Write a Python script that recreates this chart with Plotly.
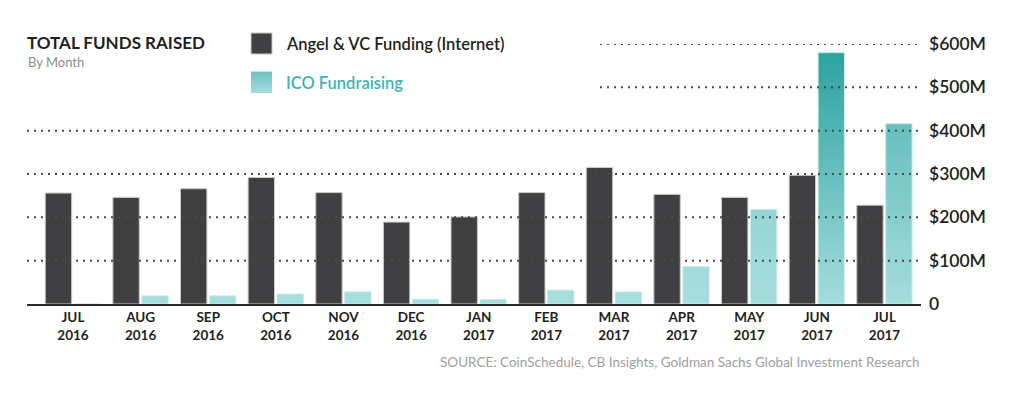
import math
import plotly.graph_objects as go

# ---------------- data ----------------
months = ["JUL<br>2016", "AUG<br>2016", "SEP<br>2016", "OCT<br>2016", "NOV<br>2016",
          "DEC<br>2016", "JAN<br>2017", "FEB<br>2017", "MAR<br>2017", "APR<br>2017",
          "MAY<br>2017", "JUN<br>2017", "JUL<br>2017"]
angel_vc = [256, 246, 266, 292, 257, 189, 201, 257, 315, 253, 246, 297, 228]   # $M
ico = [0, 19, 19, 23, 28, 11, 10, 32, 28, 86, 218, 580, 416]                   # $M
y_ticks = [0, 100, 200, 300, 400, 500, 600]
y_tick_labels = ["0", "$100M", "$200M", "$300M", "$400M", "$500M", "$600M"]

# ---------------- geometry helpers (layout only) ----------------
W, H = 1024, 399
ML, MR, MT, MB = 27, 103, 44, 95
PW, PH = W - ML - MR, H - MT - MB


def px(x):
    return (x - ML) / PW


def py(y):
    return (H - MB - y) / PH


FONT = "Lato"
DARK = "#404042"
TXT = "#231f20"
BOT = (166, 221, 221)
TOP = (44, 162, 161)


def lerp(t):
    t = max(0.0, min(1.0, t))
    r, g, b = (round(BOT[i] + (TOP[i] - BOT[i]) * t) for i in range(3))
    return f"rgb({r},{g},{b})"


xs = list(range(len(months)))

fig = go.Figure()

# Angel & VC bars
fig.add_trace(go.Bar(
    x=xs, y=angel_vc, width=0.39, offset=-0.41,
    marker=dict(color=DARK, line=dict(color="#c9c9c9", width=1)),
    name="Angel & VC Funding (Internet)", showlegend=False,
))

# ICO bars drawn as gradient segments derived from the values
vmax = max(ico)
step = 4
seg_x, seg_y, seg_base, seg_col = [], [], [], []
for i, v in enumerate(ico):
    n = math.ceil(v / step)
    for k in range(n):
        base = k * step
        h = min(step * 1.4, v - base)
        mid = base + min(step, v - base) / 2
        seg_x.append(i)
        seg_y.append(h)
        seg_base.append(base)
        seg_col.append(lerp(mid * v / vmax ** 2))
fig.add_trace(go.Bar(
    x=seg_x, y=seg_y, base=seg_base, width=0.39, offset=0.018,
    marker=dict(color=seg_col, line=dict(width=0)),
    name="ICO Fundraising", showlegend=False, hoverinfo="skip",
))
# outline for ICO bars
fig.add_trace(go.Bar(
    x=xs, y=ico, width=0.39, offset=0.018,
    marker=dict(color="rgba(0,0,0,0)", line=dict(color="rgba(205,236,236,1)", width=1)),
    showlegend=False, hoverinfo="skip",
))

shapes = []
# dotted gridlines
for v in y_ticks[1:]:
    x0 = 0 if v <= 400 else px(600)
    shapes.append(dict(type="line", xref="paper", yref="y", x0=x0, x1=px(921), y0=v, y1=v,
                       line=dict(color="#4a4a4a", width=2, dash="2px,5px"), layer="above"))

# legend swatches
shapes.append(dict(type="rect", xref="paper", yref="paper", x0=px(251), x1=px(272),
                   y0=py(54), y1=py(33), fillcolor=DARK, line=dict(color="#c9c9c9", width=1)))
nstr = 10
for k in range(nstr):
    y0 = 93 - 21 * k / nstr
    y1 = 93 - 21 * (k + 1) / nstr
    shapes.append(dict(type="rect", xref="paper", yref="paper", x0=px(251), x1=px(272),
                       y0=py(y0), y1=py(y1 - 0.5), fillcolor=lerp(0.45 * (k + 0.5) / nstr),
                       line=dict(width=0)))

annotations = [
    dict(text="TOTAL FUNDS RAISED", x=px(25), y=py(42), xref="paper", yref="paper",
         xanchor="left", yanchor="middle", showarrow=False,
         font=dict(family=FONT, size=17, color=TXT, weight=700)),
    dict(text="By Month", x=px(26), y=py(62), xref="paper", yref="paper",
         xanchor="left", yanchor="middle", showarrow=False,
         font=dict(family=FONT, size=13, color="#8c8c8c")),
    dict(text="Angel & VC Funding (Internet)", x=px(284), y=py(44), xref="paper", yref="paper",
         xanchor="left", yanchor="middle", showarrow=False,
         font=dict(family=FONT, size=16.5, color=TXT, weight=600)),
    dict(text="ICO Fundraising", x=px(284), y=py(83), xref="paper", yref="paper",
         xanchor="left", yanchor="middle", showarrow=False,
         font=dict(family=FONT, size=16.5, color="#3fb4b4", weight=600)),
    dict(text="SOURCE: CoinSchedule, CB Insights, Goldman Sachs Global Investment Research",
         x=px(922), y=py(362), xref="paper", yref="paper",
         xanchor="right", yanchor="middle", showarrow=False,
         font=dict(family=FONT, size=13.5, color="#a0a0a0")),
]

fig.update_layout(
    width=W, height=H,
    margin=dict(l=ML, r=MR, t=MT, b=MB, pad=0),
    paper_bgcolor="white", plot_bgcolor="white",
    barmode="overlay",
    shapes=shapes, annotations=annotations,
    showlegend=False,
    xaxis=dict(
        range=[-0.68, 12.54], tickmode="array", tickvals=xs, ticktext=months,
        showgrid=False, zeroline=False, showline=True, linecolor="#2b2b2b", linewidth=2,
        ticks="", tickfont=dict(family=FONT, size=13.5, color=TXT, weight=700),
    ),
    yaxis=dict(
        range=[0, 600], side="right", tickmode="array", tickvals=y_ticks,
        ticktext=y_tick_labels, showgrid=False, zeroline=False, showline=False,
        ticks="", ticklabelstandoff=7,
        tickfont=dict(family=FONT, size=17.5, color=TXT, weight=600),
    ),
)

fig.write_html("out.html", config={"displayModeBar": False},
               post_script="document.body.style.margin='0';")
